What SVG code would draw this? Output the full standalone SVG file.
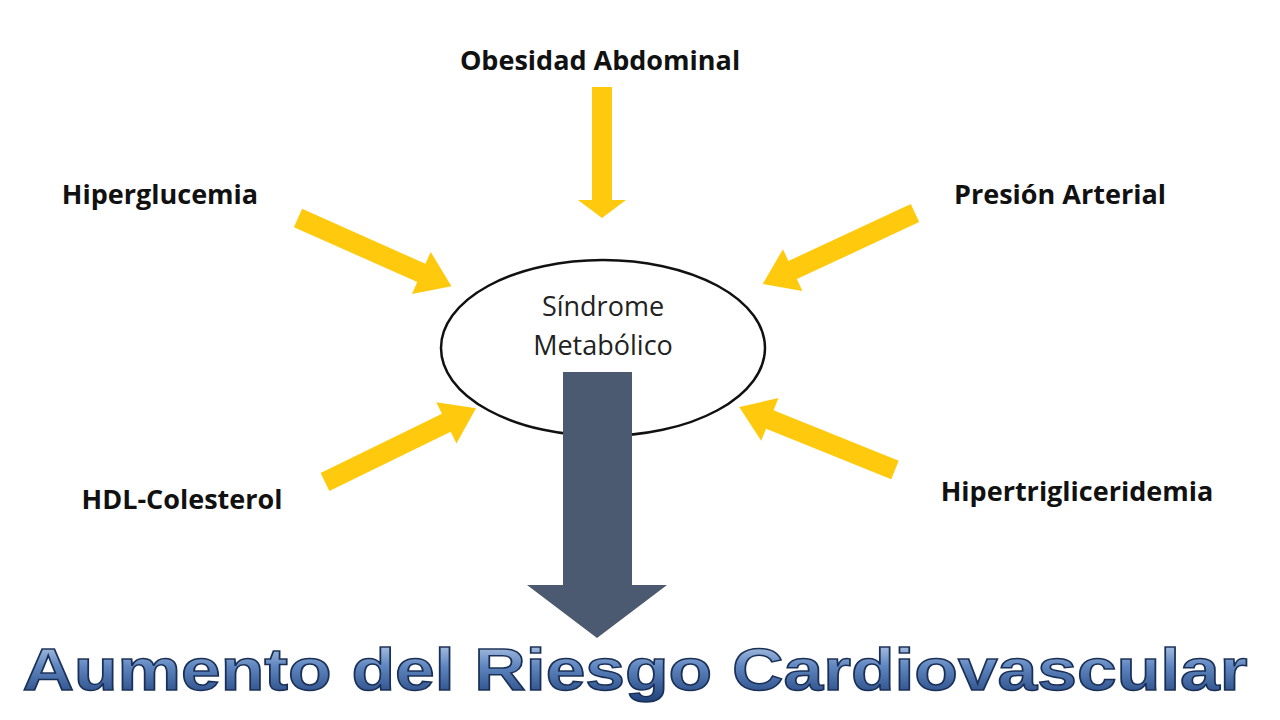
<svg xmlns="http://www.w3.org/2000/svg" width="1280" height="720" viewBox="0 0 1280 720">
<defs>
<style>
.lbl{font-family:"Open Sans","Liberation Sans",sans-serif;font-weight:bold;font-size:27px;fill:#111}
.yarrow{fill:#FFC90E}
</style>
<polygon id="ya" class="yarrow" points="0,-10 135,-10 135,-23 168,0 135,23 135,10 0,10"/>
<linearGradient id="tg" x1="0" y1="0" x2="0" y2="1">
<stop offset="0" stop-color="#c8d8ee"/><stop offset="0.45" stop-color="#5f86c0"/><stop offset="1" stop-color="#1e3f78"/>
</linearGradient>
</defs>
<rect width="1280" height="720" fill="#fff"/>
<g id="connectors">
<polygon class="yarrow" points="592,87 612,87 612,200 626,200 602,218 578,200 592,200"/>
<use href="#ya" transform="translate(298,218) rotate(24)"/>
<use href="#ya" transform="translate(915,213) rotate(155)"/>
<use href="#ya" transform="translate(325,482) rotate(-26)"/>
<use href="#ya" transform="translate(895,470) rotate(202)"/>
</g>
<g id="center">
<ellipse cx="603" cy="348" rx="162" ry="88" fill="#fff" stroke="#111" stroke-width="2.5"/>
<text x="603" y="316" text-anchor="middle" font-family="'Open Sans','Liberation Sans',sans-serif" font-size="27" fill="#222">Síndrome</text>
<text x="603" y="355" text-anchor="middle" font-family="'Open Sans','Liberation Sans',sans-serif" font-size="27" fill="#222">Metabólico</text>
</g>
<g id="bigarrow">
<polygon points="563,372 632,372 632,585 667,585 597,638 527,585 563,585" fill="#4b5a70"/>
</g>
<g id="n1"><text class="lbl" x="600" y="70" text-anchor="middle">Obesidad Abdominal</text></g>
<g id="n2"><text class="lbl" x="160" y="204" text-anchor="middle">Hiperglucemia</text></g>
<g id="n3"><text class="lbl" x="1060" y="204" text-anchor="middle">Presión Arterial</text></g>
<g id="n4"><text class="lbl" x="182" y="509" text-anchor="middle">HDL-Colesterol</text></g>
<g id="n5"><text class="lbl" x="1077" y="501" text-anchor="middle">Hipertrigliceridemia</text></g>
<g id="title"><text x="635" y="690" text-anchor="middle" font-family="'Liberation Sans',Arial,sans-serif" font-weight="bold" font-size="60" fill="url(#tg)" stroke="#1a2f55" stroke-width="1.5" textLength="1225" lengthAdjust="spacingAndGlyphs">Aumento del Riesgo Cardiovascular</text></g>
</svg>
